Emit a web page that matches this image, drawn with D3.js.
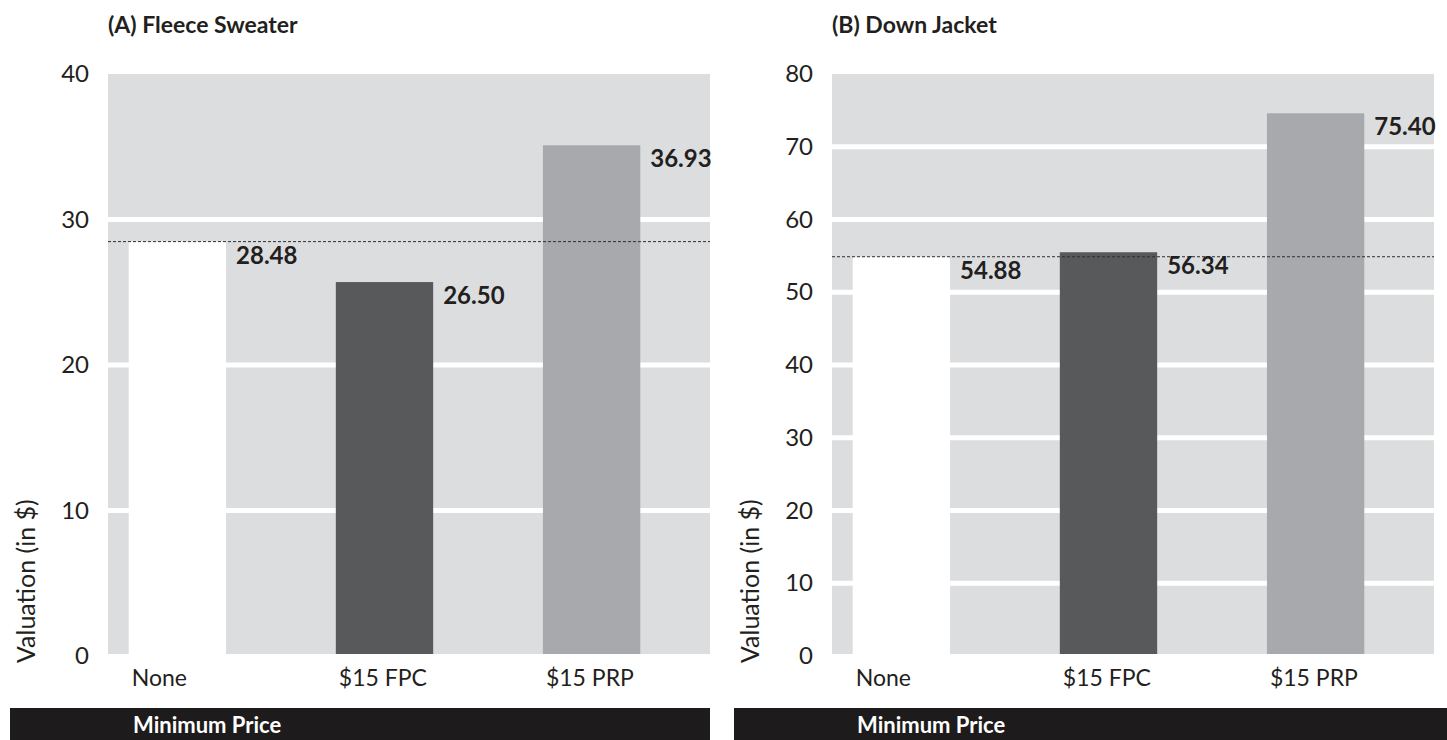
<!DOCTYPE html>
<html>
<head>
<meta charset="utf-8">
<script src="https://cdn.jsdelivr.net/npm/d3@7"></script>
<style>
  body { margin: 0; background: #fff; }
  svg { display: block; font-family: Lato, "Open Sans", sans-serif; }
</style>
</head>
<body>
<div id="chart"></div>
<script>
// values
const categories = ["None", "$15 FPC", "$15 PRP"];

const fleeceValues = [28.48, 25.7, 35.1];
const fleeceLabels = ["28.48", "26.50", "36.93"];
const fleeceTicks = [0, 10, 20, 30, 40];
const fleeceReference = 28.48;

const jacketValues = [54.88, 55.5, 74.6];
const jacketLabels = ["54.88", "56.34", "75.40"];
const jacketTicks = [0, 10, 20, 30, 40, 50, 60, 70, 80];
const jacketReference = 54.88;

const barColors = ["#ffffff", "#58595b", "#a7a9ac"];
const textColor = "#231f20";

const width = 1447, height = 740;
const plotTop = 74, plotBottom = 656, plotWidth = 602;

const svg = d3.select("#chart").append("svg")
    .attr("width", width)
    .attr("height", height);

function drawPanel(left, title, values, labels, ticks, reference, blackLeft, blackRight) {
    const g = svg.append("g").attr("transform", "translate(" + left + ",0)");

    const yScale = d3.scaleLinear()
        .domain([0, d3.max(ticks)])
        .range([plotBottom, plotTop]);

    const xScale = d3.scaleBand()
        .domain(categories)
        .range([0, 553])
        .paddingInner(0.53)
        .paddingOuter(0.1);

    // grey background
    g.append("rect")
        .attr("x", 0)
        .attr("y", plotTop)
        .attr("width", plotWidth)
        .attr("height", plotBottom - plotTop - 2)
        .attr("fill", "#dcdddf");

    // white grid lines
    g.selectAll(".grid")
        .data(ticks.filter(t => t > 0 && t < d3.max(ticks)))
        .enter()
        .append("line")
        .attr("x1", 0)
        .attr("x2", plotWidth)
        .attr("y1", d => yScale(d))
        .attr("y2", d => yScale(d))
        .attr("stroke", "#ffffff")
        .attr("stroke-width", 5);

    // bars
    g.selectAll(".bar")
        .data(values)
        .enter()
        .append("rect")
        .attr("x", (d, i) => xScale(categories[i]))
        .attr("y", d => yScale(d))
        .attr("width", xScale.bandwidth())
        .attr("height", d => yScale(0) - 2 - yScale(d))
        .attr("fill", (d, i) => barColors[i]);

    // dashed reference line
    g.append("line")
        .attr("x1", 0)
        .attr("x2", plotWidth)
        .attr("y1", yScale(reference))
        .attr("y2", yScale(reference))
        .attr("stroke", "#2e2e30")
        .attr("stroke-width", 1)
        .attr("stroke-dasharray", "3,2");

    // value labels
    g.selectAll(".val")
        .data(values)
        .enter()
        .append("text")
        .attr("x", (d, i) => xScale(categories[i]) + xScale.bandwidth() + 10)
        .attr("y", d => yScale(d) + 22)
        .attr("fill", textColor)
        .attr("font-size", 24)
        .attr("font-weight", "bold")
        .text((d, i) => labels[i]);

    // y axis
    const yAxis = g.append("g")
        .call(d3.axisLeft(yScale).tickValues(ticks).tickSize(0).tickPadding(19));
    yAxis.select(".domain").remove();
    yAxis.selectAll("text")
        .attr("fill", textColor)
        .attr("font-size", 24)
        .attr("font-family", "Lato, sans-serif");

    // x axis
    const xAxis = g.append("g")
        .attr("transform", "translate(0," + plotBottom + ")")
        .call(d3.axisBottom(xScale).tickSize(0).tickPadding(14));
    xAxis.select(".domain").remove();
    xAxis.selectAll("text")
        .attr("fill", textColor)
        .attr("font-size", 23)
        .attr("font-family", "Lato, sans-serif")
        .attr("text-anchor", "start")
        .attr("x", -xScale.bandwidth() / 2 + 3);

    // y axis title
    g.append("text")
        .attr("transform", "translate(" + (-73) + "," + 663 + ") rotate(-90)")
        .attr("fill", textColor)
        .attr("font-size", 25)
        .text("Valuation (in $)");

    // panel title
    g.append("text")
        .attr("x", 0)
        .attr("y", 33)
        .attr("fill", textColor)
        .attr("font-size", 23)
        .attr("font-weight", "bold")
        .text(title);

    // black footer bar
    svg.append("rect")
        .attr("x", blackLeft)
        .attr("y", 708)
        .attr("width", blackRight - blackLeft)
        .attr("height", height - 708)
        .attr("fill", "#1e1b1c");

    svg.append("text")
        .attr("x", blackLeft + 123)
        .attr("y", 733)
        .attr("fill", "#ffffff")
        .attr("font-size", 22)
        .attr("font-weight", "bold")
        .text("Minimum Price");
}

drawPanel(108, "(A) Fleece Sweater", fleeceValues, fleeceLabels, fleeceTicks, fleeceReference, 10, 710);
drawPanel(832, "(B) Down Jacket", jacketValues, jacketLabels, jacketTicks, jacketReference, 734, 1447);
</script>
</body>
</html>
